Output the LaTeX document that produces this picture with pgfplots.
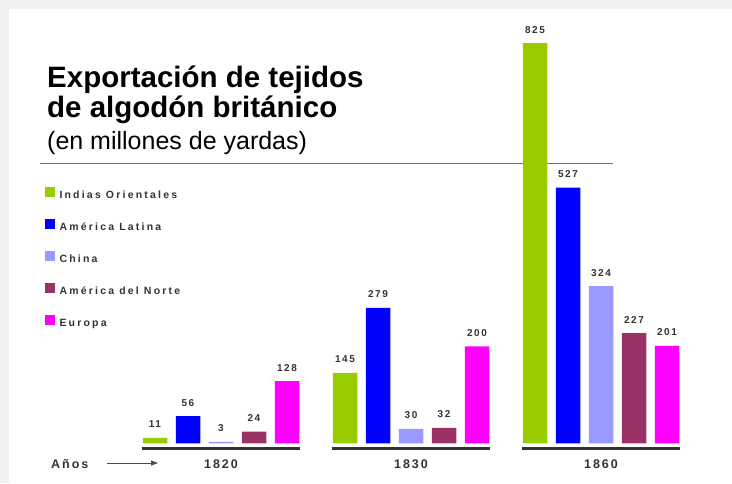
\documentclass[border=0pt]{standalone}
\usepackage{fontspec}
\setmainfont{Liberation Sans}
\newfontfamily\spaced[LetterSpace=15]{Liberation Sans}
\newfontfamily\legfont[LetterSpace=21]{Liberation Sans}
\newfontfamily\wide[LetterSpace=16]{Liberation Sans}
\usepackage{pgfplots}
\pgfplotsset{compat=1.18}
\usetikzlibrary{arrows.meta}

\definecolor{cgreen}{HTML}{99CC00}
\definecolor{cblue}{HTML}{0000FF}
\definecolor{clblue}{HTML}{9999FF}
\definecolor{cmaroon}{HTML}{993366}
\definecolor{cmag}{HTML}{FF00FF}
\definecolor{txt}{HTML}{333333}

\pgfplotsset{
  sq/.style={legend image code/.code={\fill[##1] (0pt,-1.5pt) rectangle (10pt,8.5pt);}},
}

\begin{document}
\begin{tikzpicture}[x=1pt,y=1pt]
\fill[black!6] (0,0) rectangle (732,483);
\fill[white] (9,0) rectangle (732,474);
\useasboundingbox (0,0) rectangle (732,483);

% title
\node[anchor=base west, inner sep=0pt, font=\bfseries\fontsize{29.5}{32}\selectfont] at (47,395) {Exportación de tejidos};
\node[anchor=base west, inner sep=0pt, font=\bfseries\fontsize{29.5}{32}\selectfont] at (47,365) {de algodón británico};
\node[anchor=base west, inner sep=0pt, font=\fontsize{25}{28}\selectfont] at (47,333) {(en millones de yardas)};
\draw[black!55, line width=0.9pt] (40,320) -- (613,320);

% years label
\node[anchor=base west, inner sep=0pt, text=txt, font=\wide\bfseries\fontsize{12.5}{14}\selectfont] at (51,15) {Años};
\draw[black!70, line width=0.8pt, -{Triangle[length=7pt,width=5pt]}] (107,20) -- (158,20);

\begin{axis}[
  at={(31pt,39.7pt)}, anchor=south west,
  scale only axis, width=665pt, height=436.5pt,
  xmin=-1, xmax=2.5, ymin=0, ymax=900,
  ybar=8.5pt, bar width=24.5pt,
  clip=false,
  axis line style={draw=none},
  ytick=\empty,
  xtick={0,1,2}, xticklabels={1820,1830,1860},
  xtick pos=bottom, major tick length=0pt,
  xticklabel style={anchor=base, yshift=-24.7pt, text=txt,
    font=\wide\bfseries\fontsize{12.5}{14}\selectfont},
  /pgf/number format/assume math mode=true,
  nodes near coords,
  nodes near coords style={font=\spaced\bfseries\fontsize{10}{11}\selectfont,
    text=txt, anchor=base, yshift=10pt, inner sep=0pt},
  legend style={at={(0.02105,0.5861)}, anchor=north west, draw=none, fill=none,
    inner sep=0pt, outer sep=0pt, row sep=19pt, column sep=4.5pt,
    nodes={inner sep=0pt, text height=7pt, text depth=2pt, text=txt,
      font=\legfont\bfseries\fontsize{10.5}{12}\selectfont}},
  legend cell align=left,
]
\addplot[fill=cgreen, draw=none, sq] coordinates {(0,11) (1,145) (2,825)};
\addplot[fill=cblue, draw=none, sq] coordinates {(0,56) (1,279) (2,527)};
\addplot[fill=clblue, draw=none, sq] coordinates {(0,3) (1,30) (2,324)};
\addplot[fill=cmaroon, draw=none, sq] coordinates {(0,24) (1,32) (2,227)};
\addplot[fill=cmag, draw=none, sq] coordinates {(0,128) (1,200) (2,201)};
\legend{Indias Orientales, América Latina, China, América del Norte, Europa}

\pgfplotsinvokeforeach{0,1,2}{
  \draw[black!80, line width=2.4pt] ([yshift=-5pt]axis cs:#1-0.416,0) -- ([yshift=-5pt]axis cs:#1+0.416,0);
}
\end{axis}
\end{tikzpicture}
\end{document}
